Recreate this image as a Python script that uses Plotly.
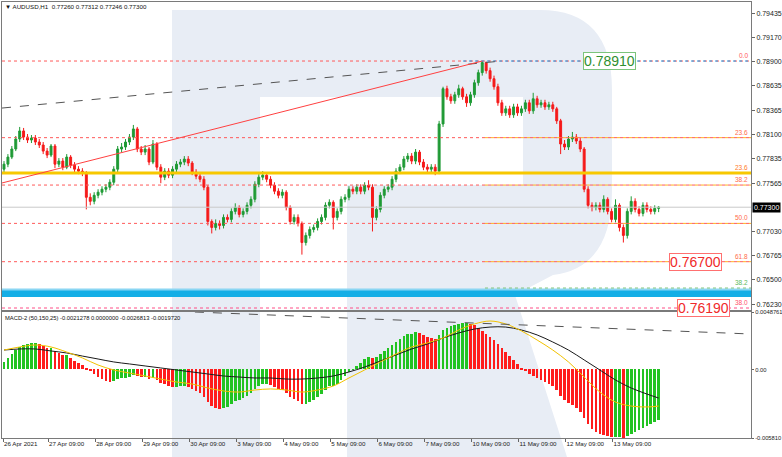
import plotly.graph_objects as go

# ---------------- data ----------------
symbol_header = "▼ AUDUSD,H1  0.77260 0.77312 0.77246 0.77300"
macd_header = "MACD-2 (50,150,25) -0.0021278 0.0000000 -0.0026813 -0.0019720"

date_labels = ["26 Apr 2021", "27 Apr 09:00", "28 Apr 09:00", "29 Apr 09:00", "30 Apr 09:00",
               "3 May 09:00", "4 May 09:00", "5 May 09:00", "6 May 09:00", "7 May 09:00",
               "10 May 09:00", "11 May 09:00", "12 May 09:00", "13 May 09:00"]
date_hours = [0, 23, 47, 71, 95, 119, 143, 167, 191, 215, 239, 263, 287, 311]

opens = [
    0.77719, 0.77774, 0.77852, 0.77941, 0.78051, 0.78140, 0.78073, 0.78040, 0.78062, 0.78018,
    0.77985, 0.77918, 0.77874, 0.77974, 0.77774, 0.77808, 0.77741, 0.77852, 0.77763, 0.77719,
    0.77697, 0.77675, 0.77409, 0.77365, 0.77431, 0.77465, 0.77498, 0.77520, 0.77575, 0.77719,
    0.77941, 0.77963, 0.78018, 0.78073, 0.78162, 0.77941, 0.77907, 0.77941, 0.77797, 0.77996,
    0.77741, 0.77631, 0.77697, 0.77653, 0.77719, 0.77774, 0.77797, 0.77830, 0.77786, 0.77686,
    0.77642, 0.77608, 0.77520, 0.77143, 0.77077, 0.77121, 0.77099, 0.77188, 0.77166, 0.77254,
    0.77298, 0.77221, 0.77254, 0.77321, 0.77387, 0.77553, 0.77631, 0.77653, 0.77608, 0.77542,
    0.77476, 0.77431, 0.77465, 0.77298, 0.77143, 0.77188, 0.77121, 0.76911, 0.76989, 0.77055,
    0.77077, 0.77143, 0.77188, 0.77321, 0.77354, 0.77188, 0.77254, 0.77387, 0.77409, 0.77498,
    0.77476, 0.77520, 0.77476, 0.77542, 0.77520, 0.77188, 0.77276, 0.77431, 0.77498, 0.77520,
    0.77608, 0.77697, 0.77741, 0.77830, 0.77863, 0.77808, 0.77907, 0.77797, 0.77741, 0.77719,
    0.77741, 0.77697, 0.78217, 0.78605, 0.78516, 0.78472, 0.78538, 0.78605, 0.78516, 0.78450,
    0.78538, 0.78671, 0.78782, 0.78893, 0.78804, 0.78715, 0.78627, 0.78450, 0.78339, 0.78383,
    0.78317, 0.78405, 0.78339, 0.78383, 0.78450, 0.78361, 0.78494, 0.78428, 0.78450, 0.78405,
    0.78428, 0.78383, 0.78251, 0.77996, 0.77963, 0.78051, 0.78073, 0.78029, 0.77941, 0.77498,
    0.77321, 0.77298, 0.77321, 0.77276, 0.77387, 0.77254, 0.77166, 0.77321, 0.77077, 0.76989,
    0.77254, 0.77365, 0.77276, 0.77232, 0.77321, 0.77276, 0.77254, 0.77287]

highs = [
    0.77808, 0.77885, 0.77974, 0.78084, 0.78184, 0.78173, 0.78106, 0.78095, 0.78095, 0.78051,
    0.78018, 0.77952, 0.77996, 0.77996, 0.77841, 0.77841, 0.77885, 0.77874, 0.77797, 0.77752,
    0.77730, 0.77697, 0.77453, 0.77465, 0.77498, 0.77531, 0.77553, 0.77608, 0.77752, 0.77974,
    0.78007, 0.78051, 0.78106, 0.78206, 0.78184, 0.77974, 0.77985, 0.77963, 0.78040, 0.78018,
    0.77774, 0.77730, 0.77730, 0.77752, 0.77808, 0.77830, 0.77863, 0.77863, 0.77808, 0.77719,
    0.77675, 0.77642, 0.77542, 0.77166, 0.77166, 0.77155, 0.77221, 0.77221, 0.77287, 0.77343,
    0.77321, 0.77287, 0.77354, 0.77420, 0.77586, 0.77664, 0.77697, 0.77686, 0.77642, 0.77575,
    0.77509, 0.77498, 0.77487, 0.77321, 0.77221, 0.77221, 0.77143, 0.77022, 0.77088, 0.77110,
    0.77177, 0.77221, 0.77354, 0.77387, 0.77376, 0.77287, 0.77420, 0.77443, 0.77531, 0.77531,
    0.77553, 0.77553, 0.77575, 0.77597, 0.77553, 0.77310, 0.77465, 0.77531, 0.77553, 0.77642,
    0.77730, 0.77774, 0.77863, 0.77896, 0.77896, 0.77941, 0.77930, 0.77830, 0.77774, 0.77774,
    0.77774, 0.78251, 0.78627, 0.78638, 0.78549, 0.78571, 0.78649, 0.78627, 0.78549, 0.78571,
    0.78704, 0.78815, 0.78910, 0.78905, 0.78837, 0.78749, 0.78660, 0.78483, 0.78417, 0.78417,
    0.78439, 0.78439, 0.78417, 0.78483, 0.78483, 0.78560, 0.78527, 0.78483, 0.78483, 0.78461,
    0.78461, 0.78405, 0.78273, 0.78040, 0.78084, 0.78129, 0.78106, 0.78062, 0.77963, 0.77531,
    0.77354, 0.77354, 0.77354, 0.77431, 0.77409, 0.77287, 0.77387, 0.77343, 0.77110, 0.77287,
    0.77420, 0.77398, 0.77310, 0.77354, 0.77354, 0.77310, 0.77321, 0.77312]

lows = [
    0.77686, 0.77741, 0.77830, 0.77918, 0.78018, 0.78040, 0.78007, 0.78007, 0.77985, 0.77952,
    0.77885, 0.77841, 0.77852, 0.77730, 0.77741, 0.77708, 0.77719, 0.77730, 0.77686, 0.77664,
    0.77642, 0.77276, 0.77321, 0.77332, 0.77398, 0.77431, 0.77465, 0.77487, 0.77542, 0.77686,
    0.77907, 0.77930, 0.77985, 0.78040, 0.77907, 0.77874, 0.77874, 0.77763, 0.77774, 0.77708,
    0.77564, 0.77598, 0.77620, 0.77620, 0.77686, 0.77741, 0.77763, 0.77752, 0.77653, 0.77608,
    0.77575, 0.77487, 0.77099, 0.77011, 0.77044, 0.77055, 0.77066, 0.77133, 0.77133, 0.77221,
    0.77188, 0.77188, 0.77221, 0.77287, 0.77354, 0.77520, 0.77598, 0.77575, 0.77509, 0.77443,
    0.77398, 0.77398, 0.77265, 0.77110, 0.77110, 0.77088, 0.76778, 0.76878, 0.76955, 0.77022,
    0.77044, 0.77110, 0.77155, 0.77287, 0.77055, 0.77155, 0.77221, 0.77354, 0.77376, 0.77443,
    0.77443, 0.77443, 0.77443, 0.77487, 0.77033, 0.77155, 0.77243, 0.77398, 0.77465, 0.77487,
    0.77575, 0.77664, 0.77708, 0.77797, 0.77774, 0.77774, 0.77763, 0.77708, 0.77686, 0.77686,
    0.77653, 0.77664, 0.78184, 0.78483, 0.78439, 0.78439, 0.78505, 0.78483, 0.78405, 0.78417,
    0.78505, 0.78638, 0.78749, 0.78771, 0.78682, 0.78594, 0.78417, 0.78306, 0.78306, 0.78284,
    0.78284, 0.78306, 0.78306, 0.78350, 0.78328, 0.78328, 0.78395, 0.78395, 0.78372, 0.78372,
    0.78350, 0.78217, 0.77885, 0.77930, 0.77930, 0.78018, 0.77996, 0.77907, 0.77465, 0.77287,
    0.77254, 0.77265, 0.77243, 0.77243, 0.77221, 0.77133, 0.77133, 0.77033, 0.76911, 0.76955,
    0.77221, 0.77243, 0.77199, 0.77199, 0.77243, 0.77221, 0.77221, 0.77246]

closes = [
    0.77774, 0.77852, 0.77941, 0.78051, 0.78140, 0.78073, 0.78040, 0.78062, 0.78018, 0.77985,
    0.77918, 0.77874, 0.77974, 0.77774, 0.77808, 0.77741, 0.77852, 0.77763, 0.77719, 0.77697,
    0.77675, 0.77409, 0.77365, 0.77431, 0.77465, 0.77498, 0.77520, 0.77575, 0.77719, 0.77941,
    0.77963, 0.78018, 0.78073, 0.78162, 0.77941, 0.77907, 0.77941, 0.77797, 0.77996, 0.77741,
    0.77631, 0.77697, 0.77653, 0.77719, 0.77774, 0.77797, 0.77830, 0.77786, 0.77686, 0.77642,
    0.77608, 0.77520, 0.77143, 0.77077, 0.77121, 0.77099, 0.77188, 0.77166, 0.77254, 0.77298,
    0.77221, 0.77254, 0.77321, 0.77387, 0.77553, 0.77631, 0.77653, 0.77608, 0.77542, 0.77476,
    0.77431, 0.77465, 0.77298, 0.77143, 0.77188, 0.77121, 0.76911, 0.76989, 0.77055, 0.77077,
    0.77143, 0.77188, 0.77321, 0.77354, 0.77188, 0.77254, 0.77387, 0.77409, 0.77498, 0.77476,
    0.77520, 0.77476, 0.77542, 0.77520, 0.77188, 0.77276, 0.77431, 0.77498, 0.77520, 0.77608,
    0.77697, 0.77741, 0.77830, 0.77863, 0.77808, 0.77907, 0.77797, 0.77741, 0.77719, 0.77741,
    0.77697, 0.78217, 0.78605, 0.78516, 0.78472, 0.78538, 0.78605, 0.78516, 0.78450, 0.78538,
    0.78671, 0.78782, 0.78893, 0.78804, 0.78715, 0.78627, 0.78450, 0.78339, 0.78383, 0.78317,
    0.78405, 0.78339, 0.78383, 0.78450, 0.78361, 0.78494, 0.78428, 0.78450, 0.78405, 0.78428,
    0.78383, 0.78251, 0.77996, 0.77963, 0.78051, 0.78073, 0.78029, 0.77941, 0.77498, 0.77321,
    0.77298, 0.77321, 0.77276, 0.77387, 0.77254, 0.77166, 0.77321, 0.77077, 0.76989, 0.77254,
    0.77365, 0.77276, 0.77232, 0.77321, 0.77276, 0.77254, 0.77287, 0.77300]

macd_hist = [
    0.00064, 0.00098, 0.00131, 0.00165, 0.00191, 0.00208, 0.00216, 0.00225, 0.00225, 0.00216,
    0.00199, 0.00182, 0.00182, 0.00157, 0.00140, 0.00123, 0.00123, 0.00098, 0.00072, 0.00055,
    0.00038, 0.00013, -0.00013, -0.00038, -0.00064, -0.00081, -0.00098, -0.00106, -0.00098, -0.00081,
    -0.00072, -0.00072, -0.00064, -0.00047, -0.00055, -0.00064, -0.00064, -0.00081, -0.00072, -0.00089,
    -0.00114, -0.00123, -0.00140, -0.00148, -0.00148, -0.00140, -0.00140, -0.00148, -0.00165, -0.00182,
    -0.00199, -0.00233, -0.00276, -0.00310, -0.00327, -0.00335, -0.00327, -0.00318, -0.00293, -0.00267,
    -0.00259, -0.00242, -0.00225, -0.00199, -0.00165, -0.00140, -0.00123, -0.00123, -0.00131, -0.00148,
    -0.00165, -0.00174, -0.00199, -0.00233, -0.00250, -0.00267, -0.00293, -0.00293, -0.00276, -0.00259,
    -0.00233, -0.00208, -0.00174, -0.00140, -0.00140, -0.00123, -0.00089, -0.00055, -0.00021, 0.00004,
    0.00030, 0.00055, 0.00089, 0.00106, 0.00098, 0.00106, 0.00131, 0.00157, 0.00182, 0.00208,
    0.00233, 0.00259, 0.00284, 0.00301, 0.00301, 0.00318, 0.00310, 0.00293, 0.00276, 0.00267,
    0.00259, 0.00293, 0.00335, 0.00352, 0.00369, 0.00377, 0.00386, 0.00394, 0.00394, 0.00386,
    0.00377, 0.00352, 0.00327, 0.00301, 0.00276, 0.00250, 0.00216, 0.00182, 0.00148, 0.00114,
    0.00081, 0.00047, 0.00013, -0.00013, -0.00038, -0.00055, -0.00072, -0.00089, -0.00106, -0.00123,
    -0.00140, -0.00174, -0.00225, -0.00259, -0.00284, -0.00301, -0.00327, -0.00360, -0.00411, -0.00462,
    -0.00505, -0.00530, -0.00547, -0.00556, -0.00564, -0.00572, -0.00572, -0.00572, -0.00581, -0.00564,
    -0.00547, -0.00530, -0.00513, -0.00496, -0.00479, -0.00462, -0.00445, -0.00428]

line_bars = [0, 4, 8, 12, 16, 20, 24, 28, 32, 36, 40, 44, 48, 52, 56, 60, 64, 68, 72, 76, 80,
             84, 88, 92, 96, 100, 104, 108, 112, 116, 120, 124, 128, 132, 136, 140, 144, 148,
             152, 156, 160, 164, 167]
macd_black = [0.00165, 0.00174, 0.00174, 0.00157, 0.00140, 0.00114, 0.00089, 0.00064, 0.00047,
              0.00030, 0.00013, -0.00004, -0.00021, -0.00038, -0.00055, -0.00064, -0.00072,
              -0.00072, -0.00081, -0.00081, -0.00072, -0.00055, -0.00021, 0.00021, 0.00072,
              0.00123, 0.00174, 0.00216, 0.00267, 0.00310, 0.00343, 0.00360, 0.00360, 0.00335,
              0.00293, 0.00233, 0.00165, 0.00081, -0.00004, -0.00089, -0.00157, -0.00208, -0.00242]
macd_yellow = [0.00165, 0.00191, 0.00208, 0.00191, 0.00148, 0.00098, 0.00038, -0.00004, -0.00030,
               -0.00055, -0.00081, -0.00106, -0.00123, -0.00157, -0.00182, -0.00191, -0.00174,
               -0.00165, -0.00174, -0.00191, -0.00174, -0.00140, -0.00072, -0.00004, 0.00064,
               0.00131, 0.00191, 0.00225, 0.00267, 0.00335, 0.00386, 0.00411, 0.00386, 0.00327,
               0.00250, 0.00165, 0.00064, -0.00064, -0.00191, -0.00276, -0.00310, -0.00318, -0.00310]

price_ticks = [0.79435, 0.79170, 0.78900, 0.78635, 0.78365, 0.78100, 0.77835, 0.77565,
               0.77030, 0.76765, 0.76500, 0.76230]
macd_ticks = [0.0048761, 0.0, -0.005810]
macd_ticktext = ["0.0048761", "0.00", "-0.005810"]

fib_levels = [0.78910, 0.78066, 0.77544, 0.77122, 0.76700]
fib_names = ["0.0", "23.6", "38.2", "50.0", "61.8"]
yellow_level = 0.77677
green_level = 0.76410
pink_level = 0.76190
band_low, band_high = 0.76311, 0.76388
current_price = 0.77300
trend_dash = ([-0.52, 252.0], [0.78392, 0.78905])
trend_red = ([-0.52, 244.5], [0.77567, 0.78910])
macd_dash = ([97.9, 381.6], [0.0048761, 0.00301])
fib_start_hour = 245.9
blue_start_hour = 234.7

# ---------------- geometry ----------------
FW, FH = 782, 457
ML, MR, MT, MB = 2, 31, 2, 19
PW, PH = FW - ML - MR, FH - MT - MB
X0 = -0.52
X1 = X0 + PW / 1.96
P_RANGE = [0.76168, 0.79560]
M_RANGE = [-0.005810, 0.0048761]


def px(x):
    return (x - ML) / PW


def py(y):
    return (FH - MB - y) / PH


bar_x = [2 * k + 0.5 for k in range(len(closes))]
line_x = [bar_x[k] for k in line_bars]
hist_colors = ["#22c322" if (i == 0 or v >= macd_hist[i - 1]) else "#ff1c1c"
               for i, v in enumerate(macd_hist)]

FONT = "Liberation Sans, Arial, sans-serif"

fig = go.Figure()
fig.add_trace(go.Candlestick(
    x=bar_x, open=opens, high=highs, low=lows, close=closes,
    increasing=dict(line=dict(color="#1f9a35", width=1), fillcolor="#1f9a35"),
    decreasing=dict(line=dict(color="#f51a1a", width=1), fillcolor="#f51a1a"),
    whiskerwidth=0, xaxis="x", yaxis="y", showlegend=False, hoverinfo="skip"))

fig.add_trace(go.Bar(x=bar_x, y=macd_hist, width=1.35,
                     marker=dict(color=hist_colors, line=dict(width=0)),
                     xaxis="x2", yaxis="y2", showlegend=False, hoverinfo="skip"))
fig.add_trace(go.Scatter(x=line_x, y=macd_black, mode="lines",
                         line=dict(color="#1a1a1a", width=1, shape="spline"),
                         xaxis="x2", yaxis="y2", showlegend=False, hoverinfo="skip"))
fig.add_trace(go.Scatter(x=line_x, y=macd_yellow, mode="lines",
                         line=dict(color="#f2c200", width=1, shape="spline"),
                         xaxis="x2", yaxis="y2", showlegend=False, hoverinfo="skip"))

shapes = []
# watermark "R"
path = (f"M {px(172)},{py(10)} L {px(540)},{py(10)} "
        f"Q {px(612)},{py(10)} {px(612)},{py(90)} L {px(612)},{py(190)} "
        f"Q {px(612)},{py(268)} {px(553)},{py(275)} L {px(515)},{py(295)} "
        f"L {px(567)},{py(457)} L {px(347)},{py(457)} L {px(347)},{py(185)} "
        f"L {px(523)},{py(185)} L {px(523)},{py(97)} L {px(260)},{py(97)} "
        f"L {px(260)},{py(457)} L {px(172)},{py(457)} Z")
shapes.append(dict(type="path", path=path, xref="paper", yref="paper",
                   fillcolor="#e8edf5", line=dict(width=0), layer="below"))
# cyan band
shapes.append(dict(type="rect", xref="paper", yref="y", x0=0, x1=1, y0=band_low, y1=band_high,
                   fillcolor="#14aee6", line=dict(width=0), layer="below"))
shapes.append(dict(type="line", xref="paper", yref="y", x0=0, x1=1, y0=band_high + 0.00006,
                   y1=band_high + 0.00006, line=dict(color="#8ad6f3", width=2), layer="below"))
# current price line
shapes.append(dict(type="line", xref="paper", yref="y", x0=0, x1=1, y0=current_price,
                   y1=current_price, line=dict(color="#c9c9c9", width=1)))
# full-width red dotted fib lines
for lv in fib_levels:
    shapes.append(dict(type="line", xref="paper", yref="y", x0=0, x1=1, y0=lv, y1=lv,
                       line=dict(color="#ff5a5a", width=1, dash="dot")))
shapes.append(dict(type="line", xref="paper", yref="y", x0=0, x1=1, y0=pink_level, y1=pink_level,
                   line=dict(color="#ff4f86", width=1, dash="dot")))
# orange dotted segments on the right
for lv in fib_levels[1:]:
    shapes.append(dict(type="line", xref="x", yref="y", x0=fib_start_hour, x1=X1, y0=lv, y1=lv,
                       line=dict(color="#ffb020", width=1, dash="dot")))
shapes.append(dict(type="line", xref="x", yref="y", x0=fib_start_hour, x1=X1, y0=green_level,
                   y1=green_level, line=dict(color="#7cc47c", width=1, dash="dot")))
# blue dotted 0.0 level
shapes.append(dict(type="line", xref="x", yref="y", x0=blue_start_hour, x1=X1, y0=fib_levels[0],
                   y1=fib_levels[0], line=dict(color="#2196e0", width=1, dash="dot")))
# yellow solid line
shapes.append(dict(type="line", xref="paper", yref="y", x0=0, x1=1, y0=yellow_level, y1=yellow_level,
                   line=dict(color="#f7c800", width=3)))
# trend lines
shapes.append(dict(type="line", xref="x", yref="y", x0=trend_dash[0][0], x1=trend_dash[0][1],
                   y0=trend_dash[1][0], y1=trend_dash[1][1],
                   line=dict(color="#555555", width=1, dash="dash")))
shapes.append(dict(type="line", xref="x", yref="y", x0=trend_red[0][0], x1=trend_red[0][1],
                   y0=trend_red[1][0], y1=trend_red[1][1],
                   line=dict(color="#ff4040", width=1)))
shapes.append(dict(type="line", xref="x2", yref="y2", x0=macd_dash[0][0], x1=macd_dash[0][1],
                   y0=macd_dash[1][0], y1=macd_dash[1][1],
                   line=dict(color="#555555", width=1, dash="dash")))

annotations = []
annotations.append(dict(text=symbol_header, xref="paper", yref="paper", x=px(3), y=py(7),
                        xanchor="left", yanchor="middle", showarrow=False,
                        font=dict(size=6.2, family=FONT, color="#111")))
annotations.append(dict(text=macd_header, xref="paper", yref="paper", x=px(3), y=py(318),
                        xanchor="left", yanchor="middle", showarrow=False,
                        font=dict(size=5.8, family=FONT, color="#111")))
# small fib labels
small = [(fib_levels[0], "0.0", "#ff5a5a"), (fib_levels[1], "23.6", "#ff6a4a"),
         (yellow_level, "23.6", "#ff7a2a"), (fib_levels[2], "38.2", "#ff6a4a"),
         (fib_levels[3], "50.0", "#ff6a4a"), (fib_levels[4], "61.8", "#ff6a4a"),
         (green_level, "38.2", "#5cb85c"), (pink_level, "38.0", "#ff4f6a")]
for lv, t, c in small:
    annotations.append(dict(text=t, xref="paper", yref="y", x=px(750), y=lv,
                            xanchor="right", yanchor="bottom", showarrow=False,
                            font=dict(size=6.5, family=FONT, color=c)))
# price boxes
boxes = [(fib_levels[0], "0.78910", 609.5, "#2f8f2f", "#7cc47c"),
         (fib_levels[4], "0.76700", 695.5, "#f02a2a", "#ff7070"),
         (pink_level, "0.76190", 703.5, "#f02a2a", "#ff7070")]
for lv, t, xc, c, bc in boxes:
    annotations.append(dict(text=t, xref="paper", yref="y", x=px(xc), y=lv,
                            xanchor="center", yanchor="middle", showarrow=False,
                            font=dict(size=14, family=FONT, color=c),
                            bgcolor="white", bordercolor=bc, borderwidth=1, borderpad=0))
# current price tag
annotations.append(dict(text=f"{current_price:.5f}", xref="paper", yref="y", x=1, y=current_price,
                        xanchor="left", yanchor="middle", xshift=1, showarrow=False,
                        font=dict(size=7, family=FONT, color="white"),
                        bgcolor="#000000", borderpad=1))

axis_common = dict(showgrid=False, zeroline=False, showline=True, mirror=True,
                   linecolor="#7a7a7a", linewidth=1, automargin=False)

fig.update_layout(
    template="none",
    width=FW, height=FH,
    margin=dict(l=ML, r=MR, t=MT, b=MB, autoexpand=False),
    paper_bgcolor="white", plot_bgcolor="white",
    showlegend=False, bargap=0,
    xaxis=dict(domain=[0, 1], range=[X0, X1], anchor="y", showticklabels=False, ticks="",
               rangeslider=dict(visible=False), **axis_common),
    yaxis=dict(domain=[py(310), 1], range=P_RANGE, side="right", anchor="x",
               tickvals=price_ticks, ticktext=[f"{v:.5f}" for v in price_ticks],
               tickfont=dict(size=7, family=FONT, color="#222"),
               ticks="outside", ticklen=3, tickcolor="#666", **axis_common),
    xaxis2=dict(domain=[0, 1], range=[X0, X1], anchor="y2",
                tickvals=date_hours, ticktext=date_labels, ticklabelposition="outside right",
                tickangle=0, ticks="outside", ticklen=3, tickcolor="#666",
                tickfont=dict(size=6.2, family=FONT, color="#222"), **axis_common),
    yaxis2=dict(domain=[0, py(312)], range=M_RANGE, side="right", anchor="x2",
                tickvals=macd_ticks, ticktext=macd_ticktext,
                tickfont=dict(size=5.8, family=FONT, color="#222"),
                ticks="outside", ticklen=2, tickcolor="#666", **axis_common),
    shapes=shapes,
    annotations=annotations,
)

fig.write_html("out.html", config={"displayModeBar": False},
               post_script="document.body.style.margin='0px';document.body.style.overflow='hidden';")
